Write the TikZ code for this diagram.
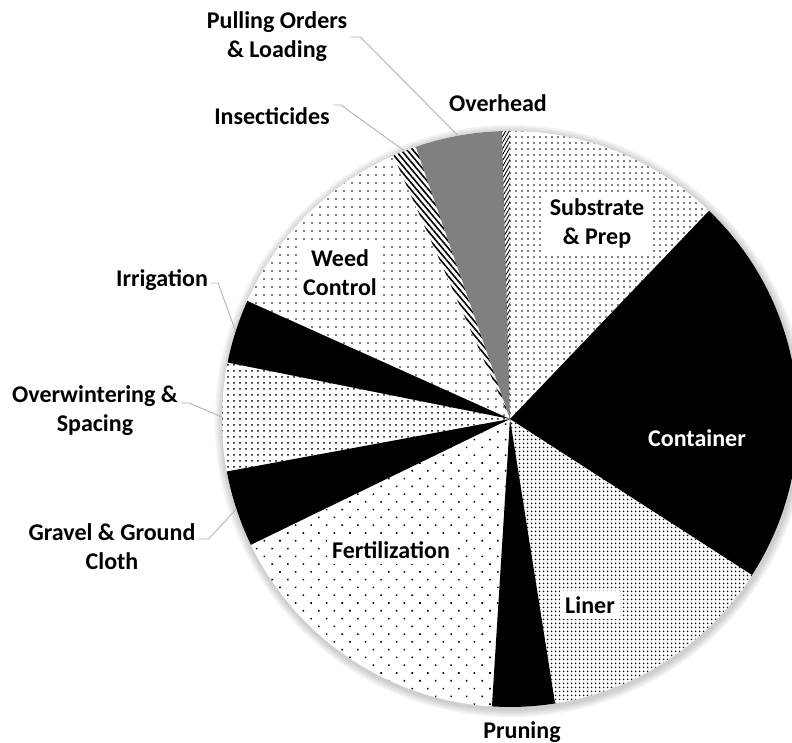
\documentclass[tikz,border=0pt]{standalone}
\usepackage{fontspec}
\setmainfont{Carlito}
\usepackage{tikz}
\usetikzlibrary{patterns.meta,calc}

\tikzset{
  lbl/.style={font=\bfseries\fontsize{24}{29}\selectfont, align=center, inner sep=3pt},
  boxlbl/.style={lbl, fill=white, inner sep=5pt},
  leader/.style={draw=black!30, line width=0.9pt},
  substrate/.style={pattern={Dots[distance=6pt, radius=0.95pt]}},
  container/.style={fill=black},
  liner/.style={pattern={Dots[distance=4pt, radius=1.1pt]}},
  pruning/.style={fill=black},
  fert/.style={pattern={Dots[distance=11pt, radius=1.1pt, angle=45]}},
  gravel/.style={fill=black},
  overwinter/.style={pattern={Dots[distance=6pt, radius=1pt]}},
  irrig/.style={fill=black},
  weed/.style={pattern={Dots[distance=8pt, radius=0.95pt]}},
  insect/.style={pattern={Lines[angle=-50, distance=4.5pt, line width=1.6pt]}},
  pulling/.style={fill=black!50},
  overhead/.style={pattern={Lines[angle=60, distance=3pt, line width=0.9pt]}},
}

\begin{document}
\begin{tikzpicture}[x=1pt, y=1pt]
  \useasboundingbox (0,0) rectangle (792,743);
  \clip (0,0) rectangle (792,743);
  \coordinate (ctr) at (510,324);
  \def\R{288}

  % soft shadow
  \foreach \r in {296, 294, 292, 290} {
    \fill[black, opacity=0.05] ($(ctr)+(1,-2)$) circle [radius=\r];
  }
  \fill[white] (ctr) circle [radius=\R];

  % slices
  \foreach \from/\to/\sty in {90/46.3/substrate, 46.3/-32.8/container,
      -32.8/-81/liner, -81/-93.6/pruning, -93.6/-154.1/fert,
      -154.1/-169.5/gravel, -169.5/-191.3/overwinter, -191.3/-204.2/irrig,
      -204.2/-246.1/weed, -246.1/-250.9/insect, -250.9/-268.4/pulling,
      -268.4/-270/overhead} {
    \fill[\sty] (ctr) -- +(\from:\R) arc [start angle=\from, end angle=\to, radius=\R] -- cycle;
  }

  % labels inside
  \node[boxlbl] (substrate-lbl) at (597,520) {Substrate\\\& Prep};
  \node[lbl, text=white] (container-lbl) at (697,305) {Container};
  \node[boxlbl] (liner-lbl) at (590,138) {Liner};
  \node[boxlbl] (fert-lbl) at (391,193) {Fertilization};
  \node[boxlbl] (weed-lbl) at (340,470) {Weed\\Control};

  % labels outside
  \node[lbl] (pruning-lbl) at (522,11) {Pruning};
  \node[lbl] (overhead-lbl) at (498,640) {Overhead};
  \node[lbl] (gravel-lbl) at (112,196) {Gravel \& Ground\\Cloth};
  \node[lbl] (overwinter-lbl) at (95,332) {Overwintering \&\\Spacing};
  \node[lbl] (irrig-lbl) at (162,463) {Irrigation};
  \node[lbl] (insect-lbl) at (272,627) {Insecticides};
  \node[lbl] (pulling-lbl) at (277,706) {Pulling Orders\\\& Loading};

  % leader ends on the rim
  \coordinate (gravel-tip) at ($(ctr)+(-161.8:\R)$);
  \coordinate (overwinter-tip) at ($(ctr)+(-180.4:\R)$);
  \coordinate (irrig-tip) at ($(ctr)+(-197.7:\R)$);
  \coordinate (insect-tip) at ($(ctr)+(-248.5:\R)$);
  \coordinate (pulling-tip) at ($(ctr)+(-259.6:\R)$);

  % leaders
  \draw[leader] ([yshift=8pt]gravel-lbl.east) -- ++(10,0) -- (gravel-tip);
  \draw[leader] ([yshift=8pt]overwinter-lbl.east) -- ++(8,0) -- (overwinter-tip);
  \draw[leader] ([yshift=-3pt]irrig-lbl.east) -- ++(7,0) -- (irrig-tip);
  \draw[leader] ([yshift=11pt]insect-lbl.east) -- ++(8,0) -- (insect-tip);
  \draw[leader] (pulling-lbl.east) -- ++(10,0) -- (pulling-tip);
\end{tikzpicture}
\end{document}
